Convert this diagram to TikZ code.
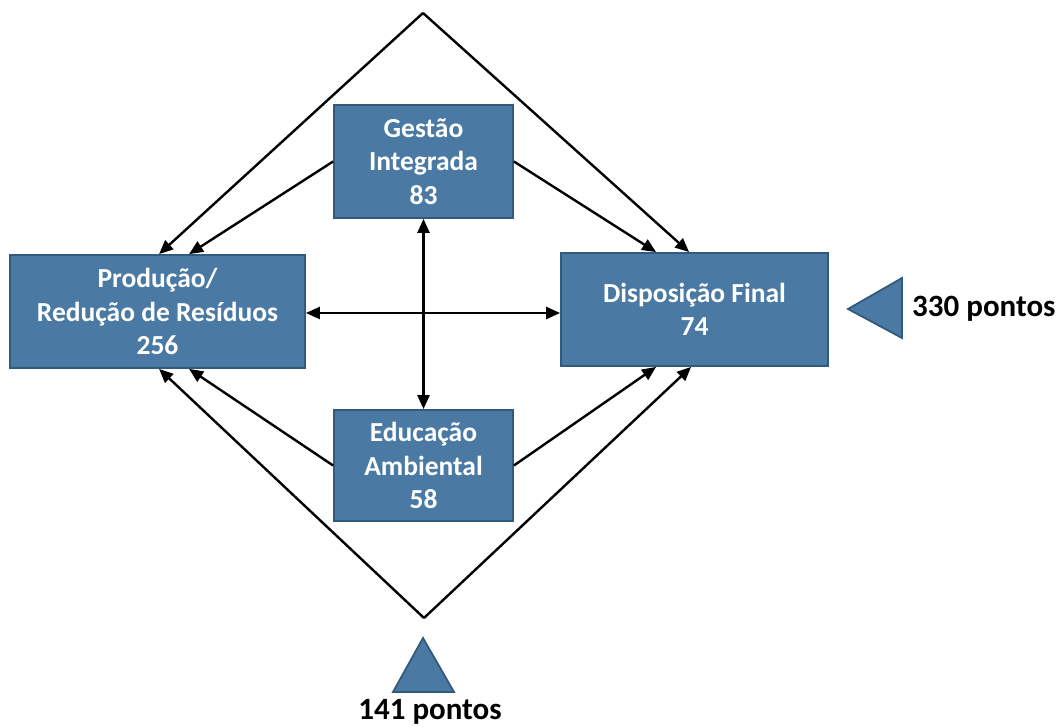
\documentclass[tikz,border=0pt]{standalone}
\usepackage{fontspec}
\setmainfont{Carlito}
\usetikzlibrary{arrows.meta}
\definecolor{boxfill}{RGB}{74,122,164}
\definecolor{boxline}{RGB}{50,90,124}
\tikzset{
  block/.style={draw=boxline, line width=1.8pt, fill=boxfill, text=white,
    font=\fontsize{27.5}{33.5}\selectfont\bfseries, align=center, inner sep=0pt},
  tip/.style={Triangle[length=14pt,width=12pt]},
  link/.style={line width=2.4pt, -{Triangle[length=14pt,width=12pt]}},
  both/.style={line width=2.4pt, {Triangle[length=14pt,width=12pt]}-{Triangle[length=14pt,width=12pt]}},
  marker/.style={draw=boxline, line width=1.8pt, fill=boxfill, line join=miter},
  score/.style={font=\fontsize{31}{36}\selectfont\bfseries, text=black, inner sep=0pt}
}
\begin{document}
\begin{tikzpicture}[x=1pt, y=-1pt]
  \useasboundingbox (0,0) rectangle (1061,727);

  % the four areas
  \node[block, minimum width=295pt, minimum height=113pt] (prod) at (157.5,311.5)
    {Produção/\\Redução de Resíduos\\256};
  \node[block, minimum width=267pt, minimum height=113pt] (disp) at (694.5,309.5)
    {Disposição Final\\74};
  \node[block, minimum width=179pt, minimum height=113pt] (gest) at (423.5,161.5)
    {Gestão\\Integrada\\83};
  \node[block, minimum width=179pt, minimum height=111pt] (edu) at (423.5,465.5)
    {Educação\\Ambiental\\58};

  % vertices of the outer diamond
  \coordinate (top) at (423,13);
  \coordinate (bottom) at (424,618);

  % outer diamond
  \draw[link] (top) -- ([xshift=150pt]prod.north west);
  \draw[link] (top) -- ([xshift=129pt]disp.north west);
  \draw[link] (bottom) -- ([xshift=150pt]prod.south west);
  \draw[link] (bottom) -- ([xshift=131pt]disp.south west);

  % inner links
  \draw[link] (gest.west) -- ([xshift=180pt]prod.north west);
  \draw[link] (gest.east) -- ([xshift=96pt]disp.north west);
  \draw[link] (edu.west) -- ([xshift=180pt]prod.south west);
  \draw[link] (edu.east) -- ([xshift=96pt]disp.south west);

  % two-way links
  \draw[both] (prod.east |- 0,313) -- (disp.west |- 0,313);
  \draw[both] (gest.south) -- (edu.north);

  % score markers
  \draw[marker] (848,309) -- (902,278) -- (902,338) -- cycle;
  \node[score, anchor=west] (right) at (912,309) {330 pontos};
  \draw[marker] (423,638) -- (454,692) -- (393,692) -- cycle;
  \node[score] (down) at (430,712) {141 pontos};
\end{tikzpicture}
\end{document}
